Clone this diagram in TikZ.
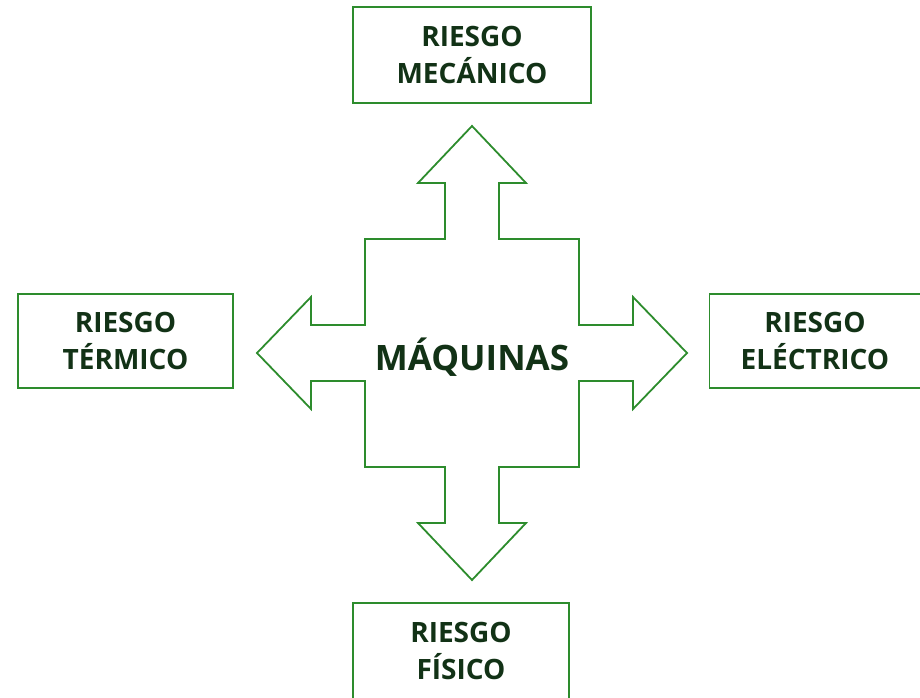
\documentclass[tikz,border=0pt]{standalone}
\usepackage{fontspec}
\setmainfont{Open Sans}
\usepackage{tikz}
\usetikzlibrary{positioning}

\definecolor{riesgogreen}{RGB}{45,140,45}
\definecolor{riesgotext}{RGB}{18,50,22}

\begin{document}
\begin{tikzpicture}[
  x=1pt, y=-1pt,
  riesgobox/.style={
        draw=riesgogreen,
        line width=1.8pt,
        align=center,
        text=riesgotext,
        font=\bfseries\fontsize{28}{37}\selectfont,
        inner sep=0pt
  },
  crossline/.style={
        draw=riesgogreen,
        line width=1.8pt,
        line join=miter
  }
]

    \useasboundingbox (0,0) rectangle (920,698);

    \coordinate (C) at (472,353);

    % four way arrow
    \draw[crossline] (472,126) -- (526,183) -- (499,183) -- (499,239) -- (579,239)
      -- (579,325) -- (633,325) -- (633,297) -- (687,353) -- (633,409) -- (633,381)
      -- (579,381) -- (579,467) -- (499,467) -- (499,523) -- (526,523) -- (472,580)
      -- (418,523) -- (445,523) -- (445,467) -- (365,467) -- (365,381) -- (311,381)
      -- (311,409) -- (257,353) -- (311,297) -- (311,325) -- (365,325) -- (365,239)
      -- (445,239) -- (445,183) -- (418,183) -- cycle;

    \node[text=riesgotext, font=\bfseries\fontsize{35}{40}\selectfont, anchor=base]
      (maquinas) at (472,370) {MÁQUINAS};

    \node[riesgobox, minimum width=238pt, minimum height=96pt] (mecanico) at (472,55)
      {RIESGO\\MECÁNICO};
    \node[riesgobox, minimum width=215pt, minimum height=94pt] (termico) at (125.5,341)
      {RIESGO\\TÉRMICO};
    \node[riesgobox, minimum width=211pt, minimum height=94pt] (electrico) at (815,341)
      {RIESGO\\ELÉCTRICO};
    \node[riesgobox, minimum width=216pt, minimum height=96pt] (fisico) at (461,651)
      {RIESGO\\FÍSICO};
\end{tikzpicture}
\end{document}
